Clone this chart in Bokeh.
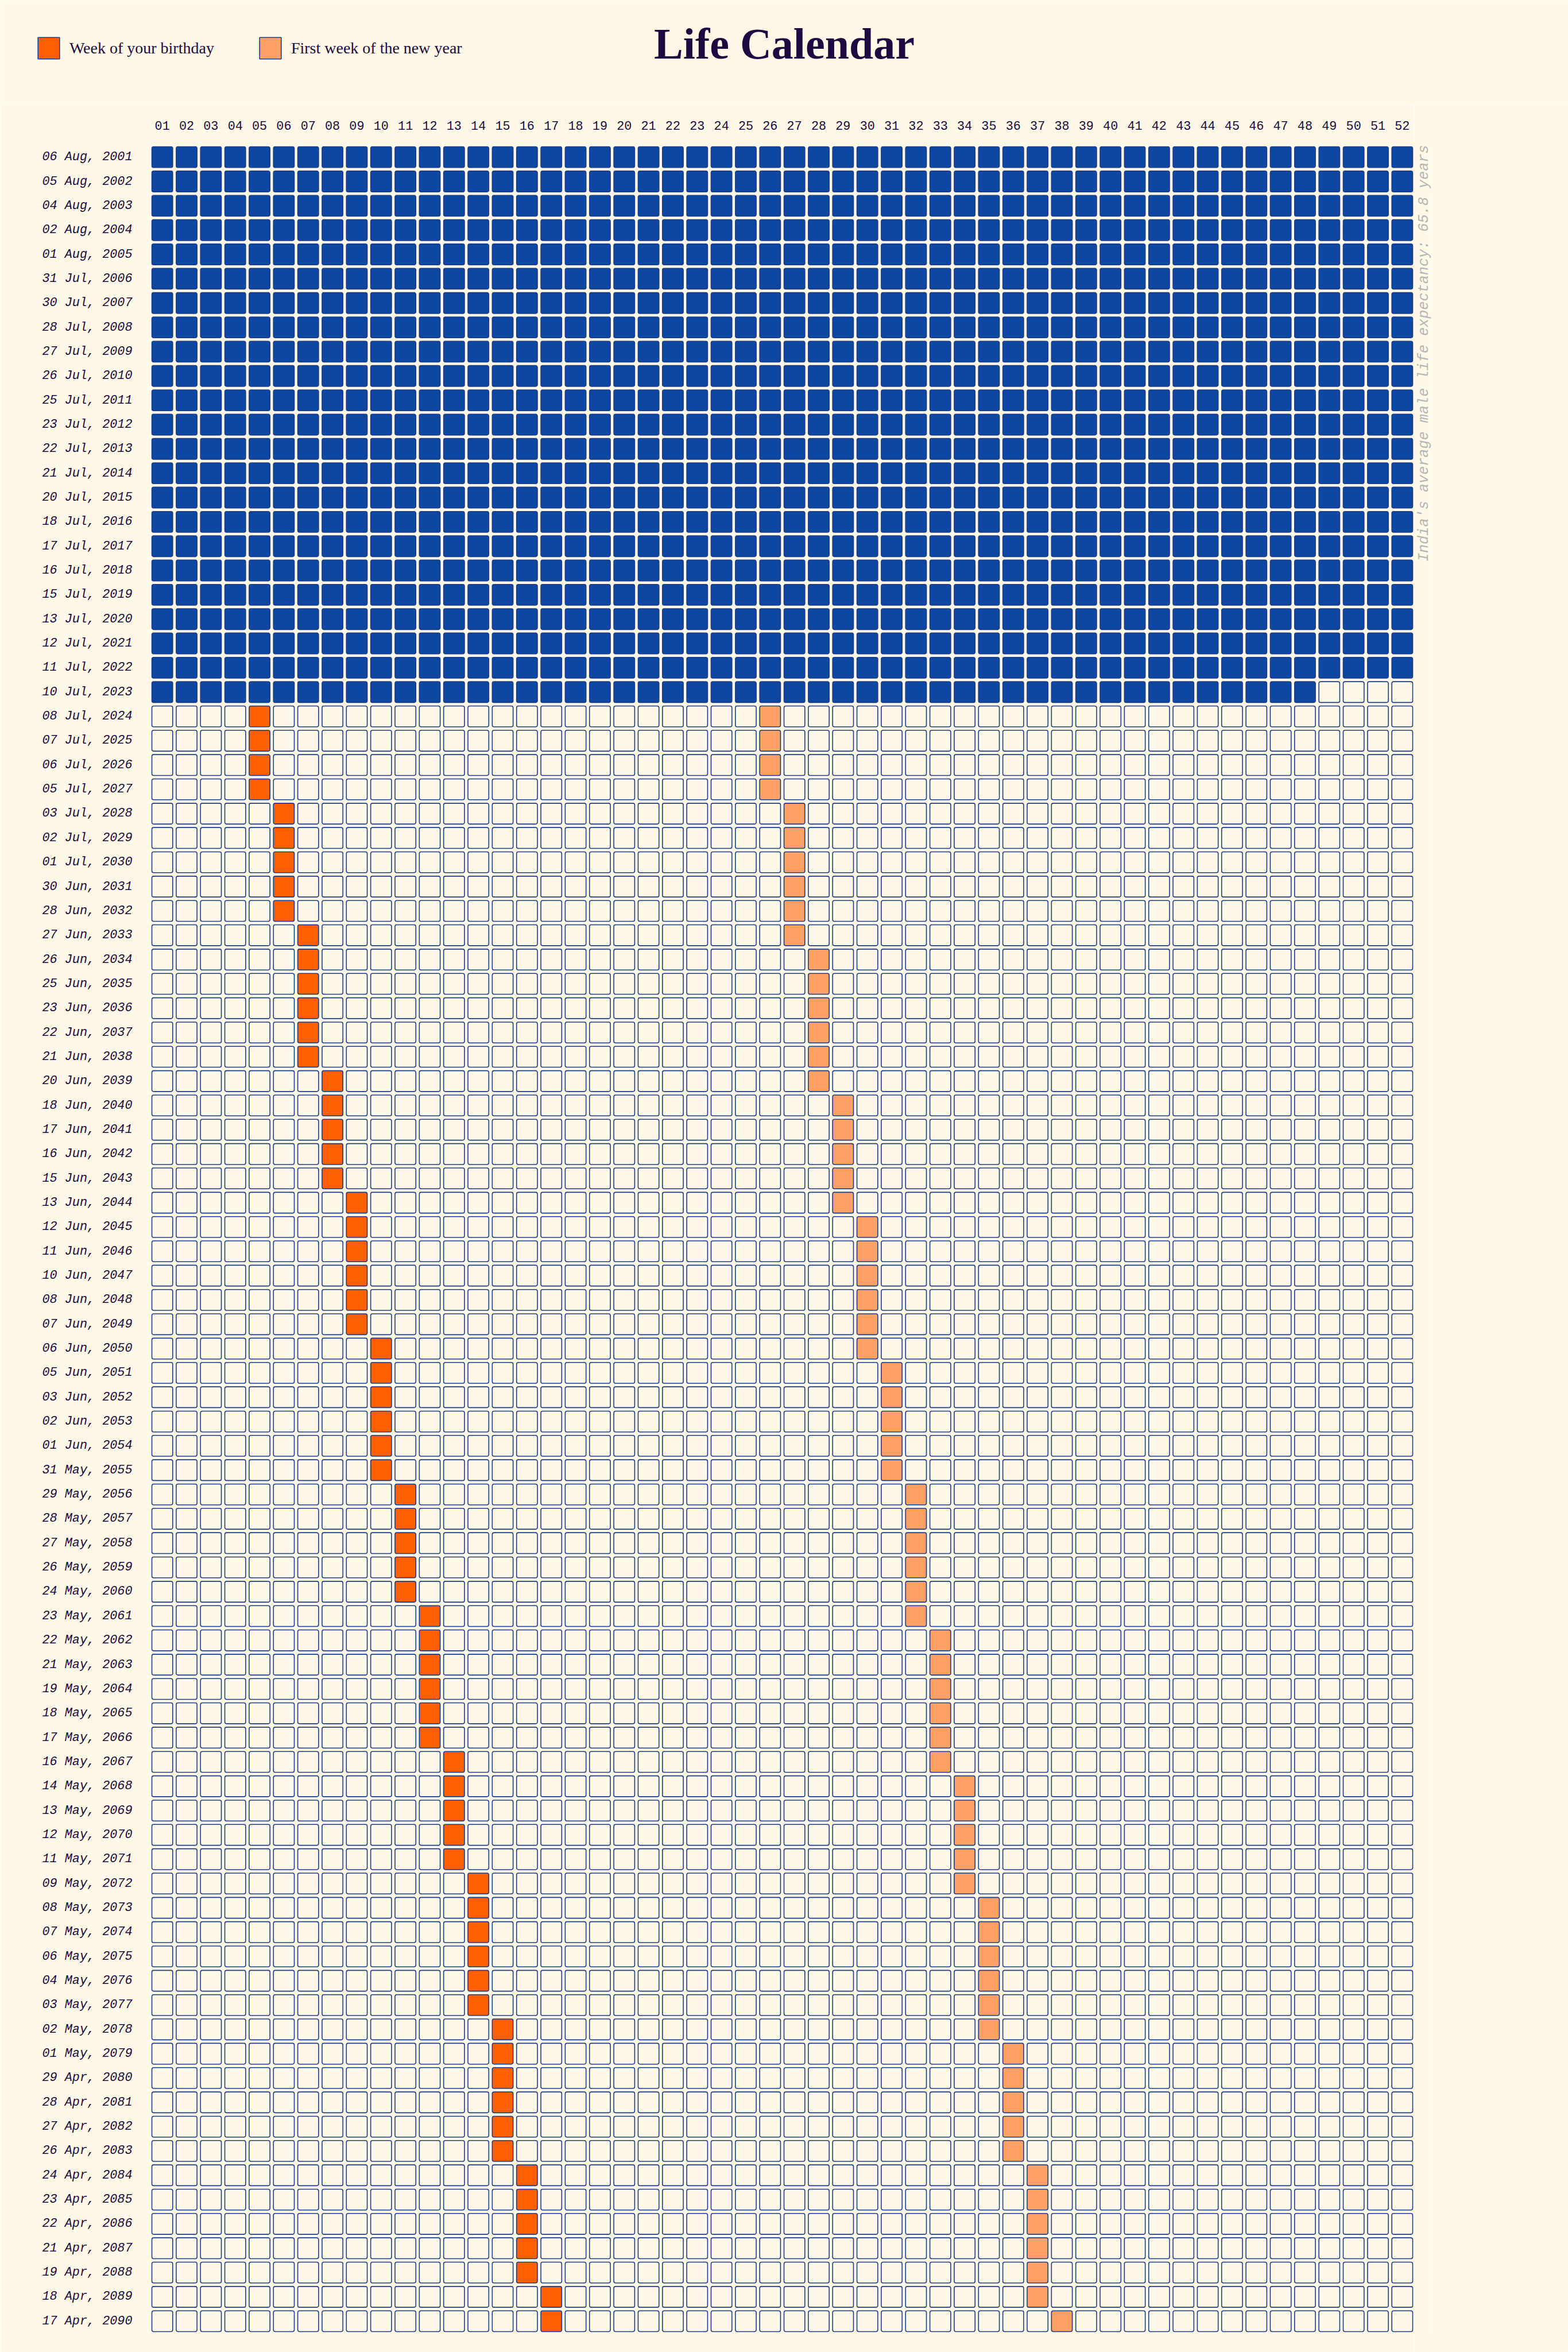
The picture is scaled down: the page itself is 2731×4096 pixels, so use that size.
import math
from bokeh.plotting import figure
from bokeh.layouts import column, row
from bokeh.models import (ColumnDataSource, FactorRange, Label, Legend, LegendItem,
                          Range1d, Rect, Title)
from bokeh.embed import file_html
from bokeh.resources import INLINE

# ---------------- data ----------------
weeks = [f"{i:02d}" for i in range(1, 53)]

row_labels = [
    "06 Aug, 2001", "05 Aug, 2002", "04 Aug, 2003", "02 Aug, 2004", "01 Aug, 2005",
    "31 Jul, 2006", "30 Jul, 2007", "28 Jul, 2008", "27 Jul, 2009", "26 Jul, 2010",
    "25 Jul, 2011", "23 Jul, 2012", "22 Jul, 2013", "21 Jul, 2014", "20 Jul, 2015",
    "18 Jul, 2016", "17 Jul, 2017", "16 Jul, 2018", "15 Jul, 2019", "13 Jul, 2020",
    "12 Jul, 2021", "11 Jul, 2022", "10 Jul, 2023", "08 Jul, 2024", "07 Jul, 2025",
    "06 Jul, 2026", "05 Jul, 2027", "03 Jul, 2028", "02 Jul, 2029", "01 Jul, 2030",
    "30 Jun, 2031", "28 Jun, 2032", "27 Jun, 2033", "26 Jun, 2034", "25 Jun, 2035",
    "23 Jun, 2036", "22 Jun, 2037", "21 Jun, 2038", "20 Jun, 2039", "18 Jun, 2040",
    "17 Jun, 2041", "16 Jun, 2042", "15 Jun, 2043", "13 Jun, 2044", "12 Jun, 2045",
    "11 Jun, 2046", "10 Jun, 2047", "08 Jun, 2048", "07 Jun, 2049", "06 Jun, 2050",
    "05 Jun, 2051", "03 Jun, 2052", "02 Jun, 2053", "01 Jun, 2054", "31 May, 2055",
    "29 May, 2056", "28 May, 2057", "27 May, 2058", "26 May, 2059", "24 May, 2060",
    "23 May, 2061", "22 May, 2062", "21 May, 2063", "19 May, 2064", "18 May, 2065",
    "17 May, 2066", "16 May, 2067", "14 May, 2068", "13 May, 2069", "12 May, 2070",
    "11 May, 2071", "09 May, 2072", "08 May, 2073", "07 May, 2074", "06 May, 2075",
    "04 May, 2076", "03 May, 2077", "02 May, 2078", "01 May, 2079", "29 Apr, 2080",
    "28 Apr, 2081", "27 Apr, 2082", "26 Apr, 2083", "24 Apr, 2084", "23 Apr, 2085",
    "22 Apr, 2086", "21 Apr, 2087", "19 Apr, 2088", "18 Apr, 2089", "17 Apr, 2090",
]

# weeks already lived (22 full rows + 48 weeks of the 2023 row)
lived_weeks = 1192

# marked weeks for the rows from "08 Jul, 2024" to "17 Apr, 2090"
birthday_week = (
    [5] * 4 + [6] * 5 + [7] * 6 + [8] * 5 + [9] * 6 + [10] * 6 + [11] * 5
    + [12] * 6 + [13] * 5 + [14] * 6 + [15] * 6 + [16] * 5 + [17] * 2
)
newyear_week = (
    [26] * 4 + [27] * 6 + [28] * 6 + [29] * 5 + [30] * 6 + [31] * 5 + [32] * 6
    + [33] * 6 + [34] * 5 + [35] * 6 + [36] * 5 + [37] * 6 + [38] * 1
)

legend_labels = ["Week of your birthday", "First week of the new year"]
title_text = "Life Calendar"
side_note = "India's average male life expectancy: 65.8 years"

# ---------------- styles ----------------
BG = "#FEF8E6"
BLUE = "#0D47A1"
ORANGE = "#FF5F00"
LIGHT_ORANGE = "#FFA066"
EDGE = "#1B3C88"
DARK = "#1E0A40"
GREY = "#B5B5B5"
MONO = "Liberation Mono"
SERIF = "Liberation Serif"
CELL = 0.857

W, H = 2731, 4096
HEAD_H = 182
SIDE_W = 268
MAIN_W = W - SIDE_W
MAIN_H = H - HEAD_H

extra = {}
if "border_radius" in Rect.properties():
    extra["border_radius"] = 3

fills = {"lived": BLUE, "future": BG, "birthday": ORANGE, "newyear": LIGHT_ORANGE}


def plain(fig):
    fig.background_fill_color = BG
    fig.border_fill_color = BG
    fig.outline_line_color = None
    fig.grid.grid_line_color = None
    return fig


# ---------------- build cells ----------------
future_start = len(row_labels) - len(birthday_week)
groups = {k: {"x": [], "y": []} for k in ("lived", "future", "birthday", "newyear")}
for r, lab in enumerate(row_labels):
    for c, wk in enumerate(weeks):
        k = r * len(weeks) + c
        if k < lived_weeks:
            g = "lived"
        elif r >= future_start and c + 1 == birthday_week[r - future_start]:
            g = "birthday"
        elif r >= future_start and c + 1 == newyear_week[r - future_start]:
            g = "newyear"
        else:
            g = "future"
        groups[g]["x"].append(wk)
        groups[g]["y"].append(lab)

# ---------------- main grid ----------------
p = figure(
    width=MAIN_W, height=MAIN_H, title=None,
    x_range=FactorRange(factors=weeks),
    y_range=FactorRange(factors=list(reversed(row_labels))),
    x_axis_location="above",
    output_backend="svg", toolbar_location=None,
    min_border_left=261, min_border_right=0,
    min_border_top=70, min_border_bottom=33,
)
plain(p)

for g in ("lived", "future", "birthday", "newyear"):
    src = ColumnDataSource(groups[g])
    p.rect(x="x", y="y", width=CELL, height=CELL, source=src,
           fill_color=fills[g], line_color=EDGE, line_width=1.6, **extra)

for ax in (p.xaxis[0], p.yaxis[0]):
    ax.axis_line_color = None
    ax.major_tick_line_color = None
    ax.minor_tick_line_color = None
    ax.major_tick_out = 0
    ax.major_tick_in = 0
    ax.major_label_text_font = MONO
    ax.major_label_text_font_size = "21.8px"
    ax.major_label_text_color = DARK

p.xaxis.major_label_standoff = 27
p.yaxis.major_label_standoff = 31
p.yaxis.major_label_text_font_style = "italic"

# ---------------- header: title + legend ----------------
head = figure(width=W, height=HEAD_H, title=None,
              x_range=Range1d(0, W), y_range=Range1d(HEAD_H, 0),
              x_axis_location=None, y_axis_location=None, min_border=0,
              output_backend="svg", toolbar_location=None)
plain(head)
# swatch renderers for the legend (their one point lies outside the visible range)
r_b = head.rect(x=[-500], y=[-500], width=1, height=1, fill_color=ORANGE,
                line_color=EDGE, line_width=1.6, **extra)
r_n = head.rect(x=[-500], y=[-500], width=1, height=1, fill_color=LIGHT_ORANGE,
                line_color=EDGE, line_width=1.6, **extra)
legend = Legend(
    items=[LegendItem(label=legend_labels[0], renderers=[r_b]),
           LegendItem(label=legend_labels[1], renderers=[r_n])],
    location=(60.9, HEAD_H - 60.2 - 47), orientation="horizontal",
    padding=0, margin=0, spacing=0,
    glyph_width=47, glyph_height=47, label_height=47, label_width=326,
    label_standoff=13,
    border_line_color=None, background_fill_alpha=0,
    label_text_font=SERIF, label_text_font_size="28px", label_text_color=DARK,
)
head.add_layout(legend)
head.add_layout(Label(x=W / 2, y=75, text=title_text,
                      text_align="center", text_baseline="alphabetic",
                      text_font=SERIF, text_font_size="76px", text_font_style="bold",
                      text_color=DARK))

# ---------------- side note (a vertical title left of an empty frame) ----------------
side = figure(width=SIDE_W, height=MAIN_H, title=None,
              x_range=Range1d(0, 1), y_range=Range1d(0, 1),
              x_axis_location=None, y_axis_location=None,
              min_border=0, min_border_left=26, min_border_top=70,
              min_border_bottom=33,
              output_backend="svg", toolbar_location=None)
plain(side)
side.add_layout(Title(text=side_note, align="right", standoff=0, offset=0,
                      text_font=MONO, text_font_size="25.2px",
                      text_font_style="italic", text_color=GREY), "left")

layout = column(head, row(p, side, spacing=0), spacing=0)
open("out.html", "w").write(file_html(layout, INLINE))
